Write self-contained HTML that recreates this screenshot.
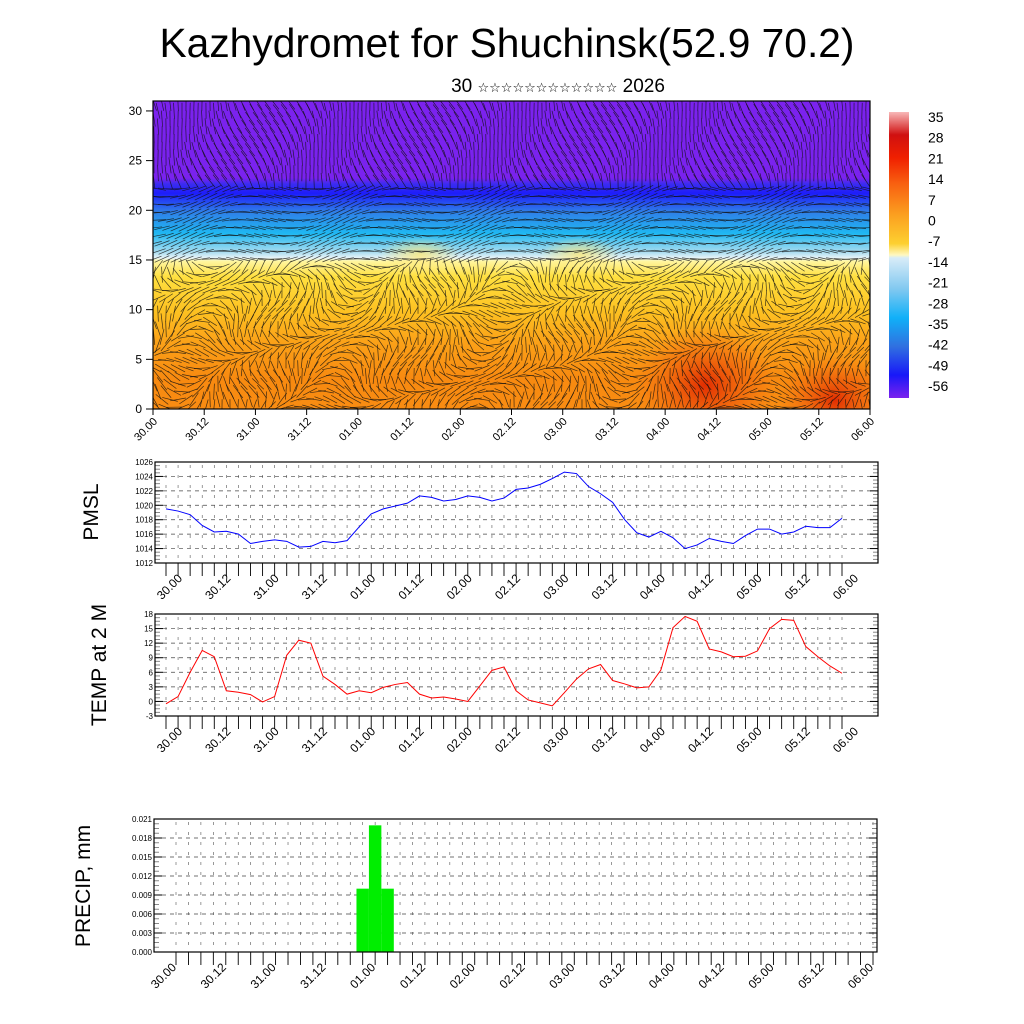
<!DOCTYPE html>
<html><head><meta charset="utf-8"><style>
body{margin:0;background:#fff}
svg{display:block;font-family:"Liberation Sans",sans-serif}
</style></head><body>
<svg id="c" width="1024" height="1024" viewBox="0 0 1024 1024">
<defs>
<linearGradient id="fieldGrad" x1="0" y1="101" x2="0" y2="409" gradientUnits="userSpaceOnUse">
<stop offset="0" stop-color="#7b22ee"/><stop offset="0.25" stop-color="#7a22ee"/>
<stop offset="0.27" stop-color="#3a2cf0"/><stop offset="0.30" stop-color="#1d1dfa"/>
<stop offset="0.36" stop-color="#2f7fe8"/><stop offset="0.43" stop-color="#1fb8f2"/>
<stop offset="0.49" stop-color="#a8dcf0"/><stop offset="0.51" stop-color="#e8f4f8"/>
<stop offset="0.52" stop-color="#fff6a0"/><stop offset="0.57" stop-color="#ffe040"/>
<stop offset="0.68" stop-color="#fdc222"/><stop offset="0.78" stop-color="#fba218"/>
<stop offset="0.9" stop-color="#f88a10"/><stop offset="1" stop-color="#f98c12"/>
</linearGradient>
<radialGradient id="red1"><stop offset="0" stop-color="#e02800" stop-opacity="0.95"/><stop offset="1" stop-color="#f06010" stop-opacity="0"/></radialGradient>
<radialGradient id="cy1"><stop offset="0" stop-color="#ffe878" stop-opacity="0.8"/><stop offset="1" stop-color="#ffe878" stop-opacity="0"/></radialGradient>
<linearGradient id="cbGrad" x1="0" y1="0" x2="0" y2="1">
<stop offset="0" stop-color="#f8b8b8"/><stop offset="0.08" stop-color="#d01010"/>
<stop offset="0.16" stop-color="#f02000"/><stop offset="0.25" stop-color="#f86010"/>
<stop offset="0.36" stop-color="#fba020"/><stop offset="0.46" stop-color="#fdd030"/>
<stop offset="0.5" stop-color="#fff8c0"/><stop offset="0.51" stop-color="#d8ecf8"/>
<stop offset="0.62" stop-color="#80c8f0"/><stop offset="0.72" stop-color="#10b0f8"/>
<stop offset="0.82" stop-color="#3070e0"/><stop offset="0.92" stop-color="#1818f8"/>
<stop offset="1" stop-color="#7b22ee"/>
</linearGradient>
<clipPath id="fclip"><rect x="153" y="101" width="717" height="308"/></clipPath>
</defs>
<text x="507" y="57" font-size="41" text-anchor="middle" textLength="695" lengthAdjust="spacingAndGlyphs">Kazhydromet for Shuchinsk(52.9 70.2)</text>
<text x="558" y="92" font-size="19" text-anchor="middle" font-family="Liberation Sans,DejaVu Sans,sans-serif">30 <tspan font-size="13" font-family="DejaVu Sans,sans-serif">☆☆☆☆☆☆☆☆☆☆☆☆</tspan> 2026</text>
<g id="top">
<g clip-path="url(#fclip)" id="field">
<rect x="153" y="101" width="717" height="308" fill="url(#fieldGrad)"/>
<ellipse cx="705" cy="385" rx="70" ry="60" fill="url(#red1)"/>
<ellipse cx="835" cy="400" rx="55" ry="45" fill="url(#red1)"/>
<ellipse cx="420" cy="255" rx="40" ry="18" fill="url(#cy1)"/>
<ellipse cx="580" cy="255" rx="40" ry="18" fill="url(#cy1)"/>
<g id="wind"></g>
</g>
<rect x="153" y="101" width="717" height="308" fill="none" stroke="#000" stroke-width="1.2"/>
<g id="topAxes"></g>
<rect x="889" y="112" width="20" height="286" fill="url(#cbGrad)"/>
<g id="cbLabels"></g>
</g>
<g id="pmsl"></g>
<g id="temp"></g>
<g id="prec"></g>
<text transform="translate(98,512) rotate(-90)" font-size="21" text-anchor="middle">PMSL</text>
<text transform="translate(106,665) rotate(-90)" font-size="21" text-anchor="middle">TEMP at 2 M</text>
<text transform="translate(90,886) rotate(-90)" font-size="21" text-anchor="middle">PRECIP, mm</text>
</svg>
<script>
const xLabels=["30.00","30.12","31.00","31.12","01.00","01.12","02.00","02.12","03.00","03.12","04.00","04.12","05.00","05.12","06.00"];
const pmslValues=[1019.5,1019.2,1018.7,1017.2,1016.3,1016.4,1016.0,1014.7,1015.0,1015.2,1015.0,1014.2,1014.3,1015.0,1014.8,1015.1,1017.0,1018.8,1019.5,1019.9,1020.3,1021.3,1021.1,1020.6,1020.8,1021.3,1021.1,1020.6,1021.0,1022.2,1022.4,1022.9,1023.7,1024.6,1024.4,1022.6,1021.6,1020.4,1018.0,1016.2,1015.6,1016.4,1015.5,1014.0,1014.5,1015.4,1015.0,1014.7,1015.8,1016.7,1016.7,1016.0,1016.3,1017.1,1016.9,1016.9,1018.2];
const tempValues=[-0.5,1,6,10.5,9.2,2.2,1.9,1.4,-0.1,1,9.5,12.6,12,5.2,3.5,1.5,2.2,1.8,2.9,3.5,3.9,1.5,0.7,0.9,0.5,0,3.2,6.4,7.1,2.2,0.3,-0.3,-0.9,1.8,4.6,6.7,7.6,4.3,3.6,2.8,3,6.5,15.2,17.5,16.5,10.8,10.2,9.2,9.3,10.4,15,16.9,16.7,11.3,9.2,7.3,5.8];
const precipIndex=[15,16,17];
const precipValues=[0.01,0.02,0.01];
const pmslTicks=[1012,1014,1016,1018,1020,1022,1024,1026];
const tempTicks=[-3,0,3,6,9,12,15,18];
const precipTicks=["0.000","0.003","0.006","0.009","0.012","0.015","0.018","0.021"];
const topYTicks=[0,5,10,15,20,25,30];
const cbLabels=["35","28","21","14","7","0","-7","-14","-21","-28","-35","-42","-49","-56"];
const NS="http://www.w3.org/2000/svg";
function mk(tag,attrs,parent){const e=document.createElementNS(NS,tag);for(const k in attrs)e.setAttribute(k,attrs[k]);parent.appendChild(e);return e;}

const topG=document.getElementById('topAxes');
const tyS=v=>409-v*(308/31);
const txS=i=>153+i*(717/14);
topYTicks.forEach(v=>{const y=tyS(v);
 mk('line',{x1:153,x2:146,y1:y,y2:y,stroke:'#000'},topG);
 const t=mk('text',{x:142,y:y+4,'font-size':12,'text-anchor':'end'},topG);t.textContent=v;
 
 
});
xLabels.forEach((l,i)=>{const x=txS(i);
 mk('line',{x1:x,x2:x,y1:409,y2:415,stroke:'#000'},topG);
 const t=mk('text',{transform:`translate(${x+5},${422}) rotate(-45)`,'font-size':11,'text-anchor':'end'},topG);t.textContent=l;
 
 
});
const cbG=document.getElementById('cbLabels');
cbLabels.forEach((l,i)=>{const t=mk('text',{x:928,y:122+i*20.7,'font-size':14},cbG);t.textContent=l;
 
 
});
// decorative wind streaks
const wg=document.getElementById('wind');
for(let gy=0;gy<40;gy++)for(let gx=0;gx<90;gx++){
 const x=154+gx*8+(gy%2)*4,y=103+gy*7.8;
 let a;
 if(y<185){a=1.25+Math.sin(gx*0.3+gy*0.25)*0.35;}
 else if(y<260){a=Math.sin(gx*0.35+gy*0.2)*0.35-0.1;}
 else{a=Math.sin(gx*0.23+gy*0.4)*1.4+Math.cos(gx*0.11-gy*0.3);}
 const L=8;
 mk('line',{x1:x-Math.cos(a)*L,y1:y-Math.sin(a)*L,x2:x+Math.cos(a)*L,y2:y+Math.sin(a)*L,stroke:'#111','stroke-width':0.7,'stroke-opacity':0.8},wg);
}
function panel(id,top,bot,left,right,x0,x1,ymin,ymax,ticks,tickLbl,lblOff,lblDy){
 const g=document.getElementById(id);
 const ys=v=>bot-(v-ymin)/(ymax-ymin)*(bot-top);
 const xs=i=>x0+i*(x1-x0)/56;
 for(let i=0;i<=56;i++){const x=xs(i);
  mk('line',{x1:x,x2:x,y1:top+3,y2:bot,stroke:'#555','stroke-width':0.6,'stroke-dasharray':'3,7'},g);
  mk('line',{x1:x,x2:x,y1:bot,y2:bot+13,stroke:'#000','stroke-width':0.9},g);
 }
 ticks.forEach((v,k)=>{const y=ys(v);
  if(k>0&&k<ticks.length-1)mk('line',{x1:left,x2:right,y1:y,y2:y,stroke:'#444','stroke-width':0.7,'stroke-dasharray':'4,4'},g);
  mk('line',{x1:left,x2:left+8,y1:y,y2:y,stroke:'#000'},g);
  mk('line',{x1:right-8,x2:right,y1:y,y2:y,stroke:'#000'},g);
  const t=mk('text',{x:left-2,y:y+3,'font-size':8,'text-anchor':'end'},g);t.textContent=tickLbl?tickLbl[k]:v;
  
  
  if(k<ticks.length-1){for(let m=1;m<4;m++){const ym=y+(ys(ticks[k+1])-y)*m/4;
   mk('line',{x1:left,x2:left+5,y1:ym,y2:ym,stroke:'#888'},g);
   mk('line',{x1:right-5,x2:right,y1:ym,y2:ym,stroke:'#888'},g);}}
 });
 xLabels.forEach((l,i)=>{const x=xs(i*4);
  const t=mk('text',{transform:`translate(${x+lblOff},${bot+lblDy}) rotate(-45)`,'font-size':12,'text-anchor':'end'},g);t.textContent=l;
  
  
 });
 return {g,xs,ys,frame:()=>mk('rect',{x:left,y:top,width:right-left,height:bot-top,fill:'none',stroke:'#000','stroke-width':1.2},g)};
}
let p=panel('pmsl',462,563,155,878,166,842,1012,1026,pmslTicks,null,17,16);
let pl=mk('polyline',{points:pmslValues.map((v,i)=>p.xs(i)+','+p.ys(v)).join(' '),fill:'none',stroke:'#0000ff','stroke-width':1},p.g);


p.frame();
let q=panel('temp',614,716,155,878,166,842,-3,18,tempTicks,null,17,16);
let tl=mk('polyline',{points:tempValues.map((v,i)=>q.xs(i)+','+q.ys(v)).join(' '),fill:'none',stroke:'#ff0000','stroke-width':1},q.g);


q.frame();
let r=panel('prec',819,952,154,877,176,873,0,0.021,precipTicks.map(Number),precipTicks,1,16);
const step=(873-176)/56;
precipIndex.forEach((idx,k)=>{const xc=r.xs(idx);
 const b=mk('rect',{x:xc-step/2,y:r.ys(precipValues[k]),width:step,height:952-r.ys(precipValues[k]),fill:'#00ee00'},r.g);
 
 
});
r.frame();
</script>
</body></html>
